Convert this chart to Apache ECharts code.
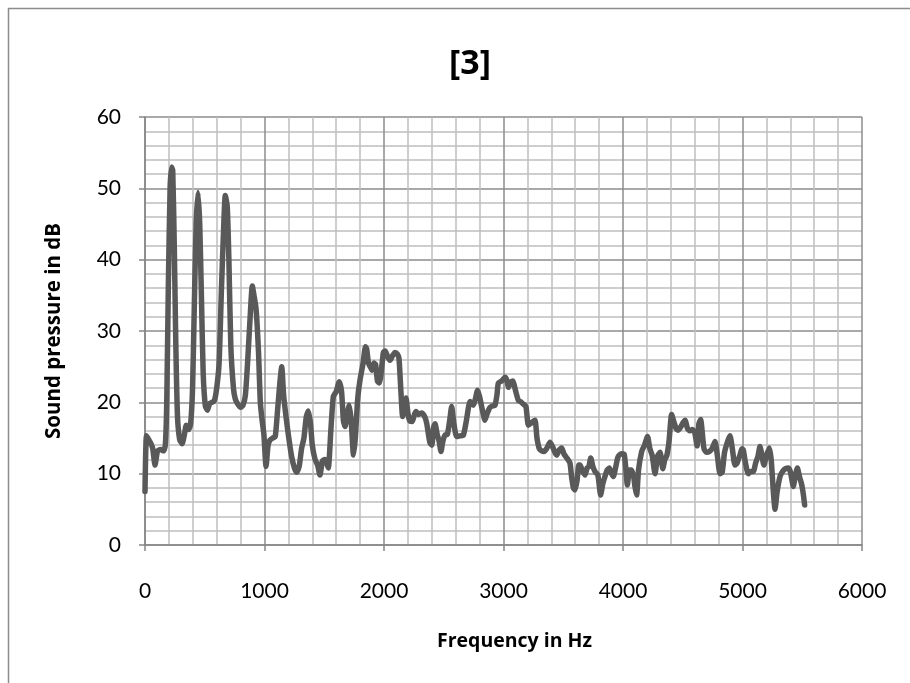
<!DOCTYPE html>
<html>
<head>
<meta charset="utf-8">
<title>[3]</title>
<script src="https://cdn.jsdelivr.net/npm/echarts@6/dist/echarts.min.js"></script>
<style>
  html, body { margin: 0; padding: 0; background: #fff; }
  #chart { width: 910px; height: 683px; }
</style>
</head>
<body>
<div id="chart"></div>
<script>
// Spectrum: frequency (Hz) and sound pressure level (dB)
const freqHz = [
  0, 12, 30, 50, 65, 84, 105, 130, 155, 170, 182, 195, 210, 222, 232, 245, 258, 272, 290, 310,
  330, 345, 365, 382, 398, 412, 428, 444, 458, 472, 487, 505, 522, 540, 560, 580, 600, 620, 640, 655,
  672, 688, 702, 718, 740, 755, 775, 800, 820, 840, 860, 880, 898, 912, 930, 950, 965, 980, 995, 1013,
  1030, 1046, 1070, 1090, 1110, 1130, 1144, 1160, 1180, 1199, 1227, 1250, 1269, 1290, 1310, 1330, 1350, 1367, 1385, 1400,
  1423, 1445, 1464, 1485, 1506, 1520, 1534, 1555, 1576, 1600, 1626, 1645, 1660, 1674, 1690, 1709, 1725, 1745, 1760, 1780,
  1799, 1825, 1845, 1855, 1870, 1885, 1900, 1915, 1930, 1945, 1960, 1975, 1995, 2010, 2030, 2050, 2070, 2092, 2110, 2125,
  2140, 2156, 2170, 2184, 2200, 2215, 2235, 2255, 2268, 2290, 2315, 2340, 2357, 2372, 2385, 2400, 2415, 2427, 2445, 2462,
  2477, 2492, 2510, 2530, 2550, 2566, 2585, 2608, 2635, 2664, 2690, 2720, 2747, 2765, 2783, 2800, 2822, 2845, 2865, 2887,
  2910, 2929, 2945, 2957, 2985, 3013, 3030, 3041, 3060, 3077, 3100, 3124, 3150, 3170, 3188, 3208, 3225, 3245, 3264, 3280,
  3300, 3320, 3340, 3360, 3389, 3410, 3430, 3445, 3465, 3487, 3505, 3530, 3556, 3570, 3585, 3598, 3615, 3630, 3640, 3660,
  3682, 3700, 3715, 3730, 3748, 3766, 3790, 3813, 3830, 3849, 3868, 3886, 3905, 3919, 3940, 3955, 3969, 3990, 4010, 4025,
  4036, 4055, 4071, 4090, 4100, 4114, 4130, 4156, 4180, 4205, 4225, 4245, 4268, 4290, 4310, 4333, 4350, 4366, 4385, 4407,
  4425, 4445, 4463, 4485, 4505, 4519, 4540, 4560, 4580, 4600, 4620, 4635, 4650, 4662, 4678, 4700, 4723, 4745, 4770, 4790,
  4812, 4830, 4850, 4875, 4895, 4915, 4937, 4955, 4979, 4995, 5007, 5025, 5048, 5070, 5090, 5110, 5130, 5146, 5160, 5179,
  5200, 5224, 5240, 5258, 5272, 5290, 5314, 5335, 5360, 5384, 5400, 5415, 5425, 5440, 5459, 5478, 5495, 5510, 5520
];
const levelDb = [
  7.5, 15.3, 14.8, 14.2, 13.5, 11.2, 13.2, 13.4, 13.2, 14, 20, 36, 50, 53, 52.5, 42, 28, 18, 14.8, 14.2,
  15.5, 16.8, 16.2, 17, 22, 33, 45, 49.4, 45, 35, 24, 19.5, 18.9, 19.8, 20, 20.2, 22, 25.5, 36, 43,
  49, 47.5, 40, 28, 22, 20.5, 19.8, 19.3, 19.6, 21, 26, 32, 36.3, 35, 33, 27, 20, 17.5, 15.5, 11,
  14, 14.7, 15, 15.2, 19, 23, 25, 21, 18, 15.5, 12.4, 10.8, 10.2, 11, 13.5, 15, 18, 18.8, 17, 14,
  12, 11.2, 9.8, 11.8, 12, 11.5, 10.8, 16, 20.8, 21.5, 22.9, 21.5, 17.5, 16.6, 18, 19.6, 17.5, 12.6, 15, 20.5,
  23.1, 25.5, 27.8, 27.5, 25.5, 25, 24.5, 25.5, 25.3, 23, 22.7, 24, 27, 27.2, 26.4, 25.9, 26.5, 27, 26.8, 26.2,
  22, 18, 19.5, 20.6, 18.5, 17.4, 17.3, 18.3, 18.7, 18.3, 18.5, 18, 17.1, 15.5, 14.3, 14, 16.5, 17, 15.5, 14.5,
  13.1, 14.5, 15.4, 15.5, 17.5, 19.4, 17, 15.2, 15.3, 15.4, 17.5, 20.1, 19.6, 20.5, 21.7, 20.8, 19, 17.5, 18.5, 19.3,
  19.5, 19.6, 21, 22.7, 23, 23.5, 23, 22.1, 22.8, 23, 21.7, 20.3, 20, 19.7, 19.4, 16.8, 17, 17.3, 17.5, 15,
  13.5, 13.2, 13.1, 13.5, 14.4, 13.8, 13, 12.6, 13.3, 13.6, 12.8, 12.2, 11.5, 9.5, 8, 7.7, 9, 11.2, 11.2, 10.4,
  9.8, 10.8, 11, 12.2, 11, 10.3, 9.8, 7, 8.5, 9.6, 10.5, 10.8, 10, 9.6, 11, 12.2, 12.6, 12.8, 12.7, 10.5,
  8.4, 10.5, 10.5, 9.5, 8.2, 7, 10.5, 13.1, 14, 15.2, 13.5, 12.5, 10, 12.5, 13, 10.7, 12, 12.5, 14.5, 18.3,
  17.3, 16.3, 16.1, 16.6, 17.2, 17.5, 16.3, 16, 16.2, 15.8, 13.9, 17, 17.6, 16, 13.5, 13, 13.1, 13.5, 14.5, 12.5,
  10, 10.2, 13, 14.5, 15.3, 13.5, 11.2, 11.5, 12.6, 13.5, 13.3, 11.5, 10, 10.3, 10.3, 11.5, 12.5, 13.8, 12.8, 11.2,
  12.5, 13.6, 12, 7.5, 5, 7.5, 9.6, 10.3, 10.7, 10.8, 10.3, 9, 8.2, 9.5, 10.8, 9.5, 8.5, 7, 5.6
];

const chartTitle = '[3]';
const xAxisName = 'Frequency in Hz';
const yAxisName = 'Sound pressure in dB';

const points = freqHz.map((f, i) => [f, levelDb[i]]);

const labelFont = "Lato, 'Open Sans', sans-serif";
const boldFont = "'Open Sans', 'Noto Sans', sans-serif";

const chart = echarts.init(document.getElementById('chart'), null, { renderer: 'canvas' });

chart.setOption({
  backgroundColor: '#ffffff',
  animation: false,
  graphic: [{
    type: 'rect',
    shape: { x: 8.5, y: 8.5, width: 920, height: 700 },
    style: { fill: 'none', stroke: '#8c8c8c', lineWidth: 1.5 },
    silent: true
  }],
  title: {
    text: chartTitle,
    left: 465,
    top: 42,
    textAlign: 'center',
    textStyle: { fontFamily: boldFont, fontWeight: 'bold', fontSize: 34, color: '#000' }
  },
  grid: { left: 145, right: 48, top: 117, bottom: 138, containLabel: false },
  xAxis: {
    type: 'value',
    min: 0, max: 6000, interval: 1000,
    name: xAxisName,
    nameLocation: 'middle',
    nameGap: 86,
    nameTextStyle: { fontFamily: boldFont, fontWeight: 'bold', fontSize: 19.5, color: '#000', padding: [0, 0, 0, 22] },
    axisLine: { show: true, onZero: false, lineStyle: { color: '#868686', width: 1.5 } },
    axisTick: { show: true, length: 6, lineStyle: { color: '#868686', width: 1.5 } },
    axisLabel: { margin: 36, fontFamily: labelFont, fontSize: 21, color: '#000', formatter: v => String(v) },
    splitLine: { show: true, lineStyle: { color: '#8c8c8c', width: 1.5 } },
    minorTick: { show: false, splitNumber: 5 },
    minorSplitLine: { show: true, lineStyle: { color: '#bfbfbf', width: 1.5 } }
  },
  yAxis: {
    type: 'value',
    min: 0, max: 60, interval: 10,
    name: yAxisName,
    nameLocation: 'middle',
    nameGap: 80,
    nameRotate: 90,
    nameTextStyle: { fontFamily: boldFont, fontWeight: 'bold', fontSize: 20.5, color: '#000' },
    axisLine: { show: true, lineStyle: { color: '#868686', width: 1.5 } },
    axisTick: { show: true, length: 6, lineStyle: { color: '#868686', width: 1.5 } },
    axisLabel: { margin: 24, fontFamily: labelFont, fontSize: 21, color: '#000', formatter: v => String(v) },
    splitLine: { show: true, lineStyle: { color: '#8c8c8c', width: 1.5 } },
    minorTick: { show: false, splitNumber: 5 },
    minorSplitLine: { show: true, lineStyle: { color: '#bfbfbf', width: 1.5 } }
  },
  series: [{
    type: 'line',
    data: points,
    showSymbol: false,
    smooth: 0.2,
    lineStyle: { color: '#595959', width: 5.5, cap: 'round', join: 'round' },
    silent: true
  }]
});
</script>
</body>
</html>
